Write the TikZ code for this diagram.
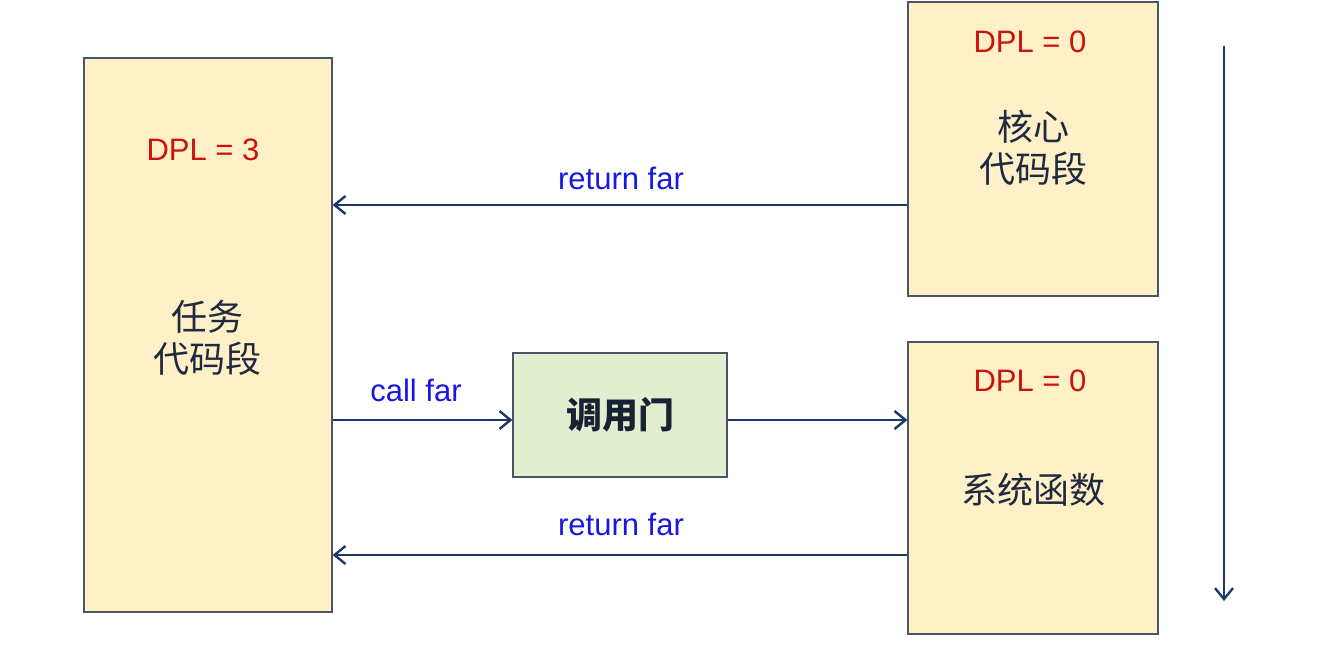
\documentclass[tikz,border=0pt]{standalone}
\usepackage{fontspec}
\setmainfont{Liberation Sans}
\newfontfamily\cjk{Noto Sans CJK SC}
\usetikzlibrary{arrows.meta}
\definecolor{boxfill}{HTML}{FFF0C8}
\definecolor{gatefill}{HTML}{E2EECF}
\definecolor{edge}{HTML}{4A5568}
\definecolor{arr}{HTML}{1B3A6B}
\definecolor{dplred}{HTML}{C8140A}
\definecolor{lblblue}{HTML}{1818E0}
\definecolor{cntxt}{HTML}{1E2A40}
\tikzset{
  segbox/.style={draw=edge, line width=1.2pt, fill=boxfill, inner sep=0pt},
  gatebox/.style={draw=edge, line width=1.2pt, fill=gatefill, inner sep=0pt},
  dpl/.style={text=dplred, font=\fontsize{31}{34}\selectfont},
  cn/.style={text=cntxt, font=\cjk\fontsize{36}{42}\selectfont, align=center},
  lbl/.style={text=lblblue, font=\fontsize{31}{34}\selectfont},
  conn/.style={draw=arr, line width=2.4pt, -{Straight Barb[length=11pt,width=18pt,line width=2.4pt]}}
}
\begin{document}
\begin{tikzpicture}[x=1pt,y=-1pt]
\useasboundingbox (0,0) rectangle (1338,650);
\fill[white] (0,0) rectangle (1338,650);
% boxes
\node[segbox, minimum width=248pt, minimum height=554pt] (task) at (208,335) {};
\node[segbox, minimum width=250pt, minimum height=294pt] (kern) at (1033,149) {};
\node[segbox, minimum width=250pt, minimum height=292pt] (sys) at (1033,488) {};
\node[gatebox, minimum width=214pt, minimum height=124pt] (gate) at (620,415) {};
% texts
\node[dpl] (d3) at (203,150) {DPL = 3};
\node[cn] (tt) at (207,338) {任务\\代码段};
\node[dpl] (d0a) at (1030,42) {DPL = 0};
\node[cn] (kt) at (1033,148) {核心\\代码段};
\node[dpl] (d0b) at (1030,381) {DPL = 0};
\node[cn] (st) at (1033,490) {系统函数};
\node[text=cntxt!80!black, font=\cjk\bfseries\fontsize{36}{40}\selectfont] (gt) at (620,415) {调用门};
% coordinates on box edges
\coordinate (k1) at (kern.west |- 0,205);
\coordinate (t1) at (task.east |- 0,205);
\coordinate (t2) at (task.east |- 0,420);
\coordinate (g1) at (gate.west |- 0,420);
\coordinate (g2) at (gate.east |- 0,420);
\coordinate (s1) at (sys.west |- 0,420);
\coordinate (s2) at (sys.west |- 0,555);
\coordinate (t3) at (task.east |- 0,555);
\coordinate (vtop) at (1224,46);
\coordinate (vbot) at (1224,601);
% connectors
\draw[conn] (k1) -- (t1);
\node[lbl] (rf1) at (621,178) {return far};
\draw[conn] (t2) -- (g1);
\node[lbl] (cf) at (416,390) {call far};
\draw[conn] (g2) -- (s1);
\draw[conn] (s2) -- (t3);
\node[lbl] (rf2) at (621,524) {return far};
\draw[conn] (vtop) -- (vbot);
\end{tikzpicture}
\end{document}
